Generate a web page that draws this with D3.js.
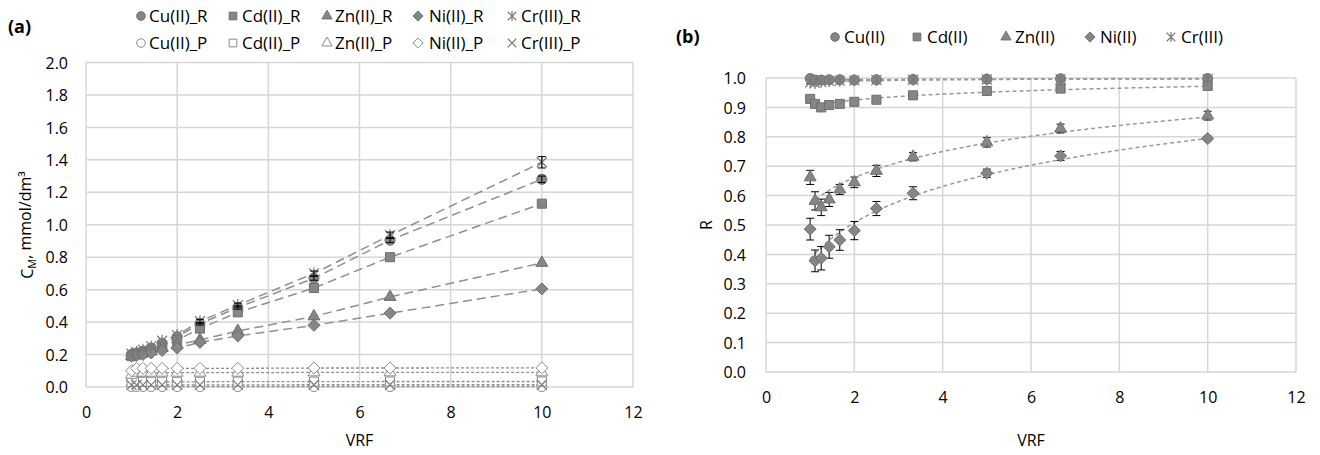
<!DOCTYPE html>
<html><head><meta charset="utf-8">
<script src="https://cdn.jsdelivr.net/npm/d3@7"></script>
<style>
body{margin:0;background:#fff;}
text{font-family:"Open Sans",sans-serif;fill:#000;}
</style></head><body>
<svg id="c" width="1320" height="455"></svg>
<script>
// ---------- data ----------
const vrf = [1, 1.11, 1.25, 1.43, 1.67, 2, 2.5, 3.33, 5, 6.67, 10];
const xTicks = [0, 2, 4, 6, 8, 10, 12];
const yTicksA = [0, 0.2, 0.4, 0.6, 0.8, 1.0, 1.2, 1.4, 1.6, 1.8, 2.0];
const yTicksB = [0, 0.1, 0.2, 0.3, 0.4, 0.5, 0.6, 0.7, 0.8, 0.9, 1.0];

// (a) retentate concentrations
const cuR = [0.20, 0.21, 0.22, 0.24, 0.27, 0.31, 0.39, 0.49, 0.67, 0.905, 1.28];
const cdR = [0.19, 0.20, 0.21, 0.23, 0.25, 0.29, 0.36, 0.46, 0.61, 0.80, 1.13];
const znR = [0.19, 0.20, 0.21, 0.22, 0.24, 0.26, 0.29, 0.345, 0.435, 0.555, 0.765];
const niR = [0.19, 0.195, 0.20, 0.21, 0.225, 0.24, 0.275, 0.315, 0.38, 0.455, 0.605];
const crR = [0.205, 0.215, 0.23, 0.25, 0.285, 0.32, 0.405, 0.505, 0.70, 0.935, 1.385];
const errCuR = [0, 0, 0, 0, 0, 0, 0.008, 0.01, 0.012, 0.015, 0.02];
const errCrR = [0, 0, 0, 0, 0, 0, 0.012, 0.012, 0.015, 0.02, 0.035];
// (a) permeate concentrations
const cuP = [0.003, 0.003, 0.003, 0.003, 0.003, 0.003, 0.003, 0.003, 0.003, 0.003, 0.003];
const cdP = [0.03, 0.032, 0.032, 0.032, 0.032, 0.032, 0.032, 0.033, 0.033, 0.034, 0.034];
const znP = [0.075, 0.088, 0.088, 0.088, 0.088, 0.088, 0.088, 0.088, 0.09, 0.09, 0.09];
const niP = [0.10, 0.115, 0.115, 0.115, 0.115, 0.115, 0.115, 0.115, 0.117, 0.117, 0.118];
const crP = [0.012, 0.013, 0.013, 0.013, 0.013, 0.013, 0.013, 0.013, 0.014, 0.014, 0.014];

// (b) retention coefficients
const cuRet = [0.998, 0.993, 0.993, 0.994, 0.994, 0.993, 0.994, 0.995, 0.996, 0.997, 0.998];
const cdRet = [0.929, 0.912, 0.900, 0.908, 0.912, 0.919, 0.926, 0.941, 0.956, 0.964, 0.973];
const znRet = [0.662, 0.582, 0.560, 0.587, 0.621, 0.645, 0.684, 0.732, 0.781, 0.828, 0.872];
const niRet = [0.486, 0.378, 0.387, 0.426, 0.449, 0.481, 0.556, 0.608, 0.676, 0.735, 0.794];
const crRet = [0.985, 0.983, 0.987, 0.990, 0.991, 0.992, 0.993, 0.994, 0.995, 0.996, 0.996];
const errZn = [0.024, 0.031, 0.028, 0.024, 0.017, 0.018, 0.019, 0.014, 0.016, 0.015, 0.015];
const errNi = [0.037, 0.037, 0.040, 0.039, 0.035, 0.031, 0.024, 0.022, 0.014, 0.015, 0.008];
const errCu = [0.004, 0.004, 0.004, 0.004, 0.004, 0.004, 0.004, 0.004, 0.004, 0.004, 0.004];
const errCd = [0.006, 0.006, 0.006, 0.006, 0.006, 0.006, 0.006, 0.006, 0.006, 0.006, 0.006];
const errCr = [0.005, 0.005, 0.005, 0.005, 0.005, 0.005, 0.005, 0.005, 0.005, 0.005, 0.005];

const legendA1 = ["Cu(II)_R", "Cd(II)_R", "Zn(II)_R", "Ni(II)_R", "Cr(III)_R"];
const legendA2 = ["Cu(II)_P", "Cd(II)_P", "Zn(II)_P", "Ni(II)_P", "Cr(III)_P"];
const legendB = ["Cu(II)", "Cd(II)", "Zn(II)", "Ni(II)", "Cr(III)"];
const shapes = ["circle", "square", "triangle", "diamond", "star"];

// ---------- styles ----------
const FILL = "#868686", MSTROKE = "#6e6e6e", GRID = "#d6d6d6", LINE = "#8f8f8f";

const svg = d3.select("#c");

function markerPath(shape, open, s) {
  s = s || 1;
  if (shape === "circle") return d3.symbol(d3.symbolCircle, 80 * s * s)();
  if (shape === "square") return d3.symbol(d3.symbolSquare, 82 * s * s)();
  if (shape === "triangle") return d3.symbol(d3.symbolTriangle, 62 * s * s)();
  if (shape === "diamond") { const r = 6 * s; return `M0,${-r}L${r},0L0,${r}L${-r},0Z`; }
  const r = 5 * s;
  let p = `M${-r},${-r}L${r},${r}M${-r},${r}L${r},${-r}`;
  if (!open) p += `M0,${-r * 1.2}L0,${r * 1.2}`;
  return p;
}
function drawMarker(g, shape, open, x, y, s) {
  const isLine = shape === "star";
  g.append("path").attr("d", markerPath(shape, open, s))
    .attr("transform", `translate(${x},${y})`)
    .attr("fill", isLine ? "none" : (open ? "#fff" : FILL))
    .attr("stroke", isLine ? "#7a7a7a" : (open ? "#8a8a8a" : MSTROKE))
    .attr("stroke-width", isLine ? 1.2 : 1);
}
function drawErr(g, x, y0, y1) {
  if (Math.abs(y0 - y1) < 0.5) return;
  g.append("line").attr("x1", x).attr("x2", x).attr("y1", y0).attr("y2", y1)
    .attr("stroke", "#000").attr("stroke-width", 1);
  [y0, y1].forEach(y => g.append("line").attr("x1", x - 4).attr("x2", x + 4)
    .attr("y1", y).attr("y2", y).attr("stroke", "#000").attr("stroke-width", 1));
}

function frame(x, y, yTicks, fmt, xLabelY, yLabelRight) {
  const g = svg.append("g");
  const [x0, x1] = x.range(), [y0, y1] = y.range();
  yTicks.forEach(t => g.append("line").attr("x1", x0).attr("x2", x1)
    .attr("y1", y(t)).attr("y2", y(t)).attr("stroke", GRID).attr("stroke-width", 1.5));
  xTicks.forEach(t => g.append("line").attr("x1", x(t)).attr("x2", x(t))
    .attr("y1", y0).attr("y2", y1).attr("stroke", GRID).attr("stroke-width", 1.5));
  const ax = d3.axisBottom(x).tickValues(xTicks).tickSize(0).tickPadding(0);
  const gx = g.append("g").attr("transform", `translate(0,${xLabelY})`).call(ax);
  gx.select(".domain").remove();
  gx.selectAll("text").attr("font-size", 16).attr("dy", "0.35em").attr("fill", "#000")
    .attr("font-family", "Open Sans");
  const ay = d3.axisLeft(y).tickValues(yTicks).tickFormat(fmt).tickSize(0).tickPadding(0);
  const gy = g.append("g").attr("transform", `translate(${yLabelRight},0)`).call(ay);
  gy.select(".domain").remove();
  gy.selectAll("text").attr("font-size", 16).attr("dy", "0.35em").attr("fill", "#000")
    .attr("font-family", "Open Sans");
  return g;
}

// ---------- chart (a) ----------
const xA = d3.scaleLinear([0, 12], [86, 633]);
const yA = d3.scaleLinear([0, 2], [387, 62.5]);
frame(xA, yA, yTicksA, d3.format(".1f"), 412, 68);

const seriesAR = [cuR, cdR, znR, niR, crR];
const seriesAP = [cuP, cdP, znP, niP, crP];
const gA = svg.append("g");
const lineA = d3.line().x((d, i) => xA(vrf[i])).y(d => yA(d));
seriesAP.forEach(s => gA.append("path").attr("d", lineA(s)).attr("fill", "none")
  .attr("stroke", LINE).attr("stroke-width", 1.3).attr("stroke-dasharray", "3,2"));
seriesAR.forEach(s => gA.append("path").attr("d", lineA(s)).attr("fill", "none")
  .attr("stroke", LINE).attr("stroke-width", 1.5).attr("stroke-dasharray", "9,5"));
seriesAP.forEach((s, k) => s.forEach((v, i) => drawMarker(gA, shapes[k], true, xA(vrf[i]), yA(v))));
seriesAR.forEach((s, k) => s.forEach((v, i) => drawMarker(gA, shapes[k], false, xA(vrf[i]), yA(v))));
[[cuR, errCuR], [crR, errCrR]].forEach(([s, e]) => s.forEach((v, i) =>
  drawErr(gA, xA(vrf[i]), yA(v - e[i]), yA(v + e[i]))));

// legend (a)
const legAx = [141, 233, 327, 418, 512];
const legAtx = [149, 242, 335, 429, 521];
[[legendA1, 16, false], [legendA2, 43, true]].forEach(([labels, y, open]) => {
  labels.forEach((t, i) => {
    drawMarker(svg, shapes[i], open, legAx[i], y, 0.85);
    svg.append("text").attr("x", legAtx[i]).attr("y", y).attr("dy", "0.35em")
      .attr("font-size", 17).text(t);
  });
});
svg.append("text").attr("x", 8).attr("y", 27).attr("dy", "0.35em").attr("font-size", 18)
  .attr("font-weight", "bold").text("(a)");
svg.append("text").attr("x", d3.mean(xA.range())).attr("y", 440).attr("dy", "0.35em")
  .attr("text-anchor", "middle").attr("font-size", 16).text("VRF");
const yt = svg.append("text").attr("transform", "translate(27,225) rotate(-90)")
  .attr("dy", "0.35em").attr("text-anchor", "middle").attr("font-size", 16);
yt.append("tspan").text("C");
yt.append("tspan").attr("font-size", 11).attr("dy", "0.3em").text("M");
yt.append("tspan").attr("dy", "-0.3em").text(", mmol/dm³");

// ---------- chart (b) ----------
const xB = d3.scaleLinear([0, 12], [766, 1296]);
const yB = d3.scaleLinear([0, 1], [372, 78]);
frame(xB, yB, yTicksB, d3.format(".1f"), 397, 746);

const seriesB = [cuRet, cdRet, znRet, niRet, crRet];
const errB = [errCu, errCd, errZn, errNi, errCr];
const gB = svg.append("g");
// logarithmic trendlines (least squares on ln x)
seriesB.forEach(s => {
  const lx = vrf.map(Math.log);
  const mx = d3.mean(lx), my = d3.mean(s);
  const b = d3.sum(lx, (v, i) => (v - mx) * (s[i] - my)) / d3.sum(lx, v => (v - mx) ** 2);
  const a = my - b * mx;
  const pts = d3.range(1, 10.001, 0.05);
  gB.append("path").attr("d", d3.line().x(d => xB(d)).y(d => yB(a + b * Math.log(d)))(pts))
    .attr("fill", "none").attr("stroke", "#999").attr("stroke-width", 1.5)
    .attr("stroke-dasharray", "4,3");
});
seriesB.forEach((s, k) => s.forEach((v, i) => drawErr(gB, xB(vrf[i]), yB(v - errB[k][i]), yB(v + errB[k][i]))));
seriesB.forEach((s, k) => s.forEach((v, i) => drawMarker(gB, shapes[k], false, xB(vrf[i]), yB(v))));

const legBx = [835, 917, 1006, 1090, 1171];
const legBtx = [844, 927, 1015, 1100, 1181];
legendB.forEach((t, i) => {
  drawMarker(svg, shapes[i], false, legBx[i], 37, 0.85);
  svg.append("text").attr("x", legBtx[i]).attr("y", 37).attr("dy", "0.35em")
    .attr("font-size", 17).text(t);
});
svg.append("text").attr("x", 676).attr("y", 37).attr("dy", "0.35em").attr("font-size", 18)
  .attr("font-weight", "bold").text("(b)");
svg.append("text").attr("x", d3.mean(xB.range())).attr("y", 440).attr("dy", "0.35em")
  .attr("text-anchor", "middle").attr("font-size", 16).text("VRF");
svg.append("text").attr("transform", "translate(706,225) rotate(-90)").attr("dy", "0.35em")
  .attr("text-anchor", "middle").attr("font-size", 16).text("R");
</script></body></html>
